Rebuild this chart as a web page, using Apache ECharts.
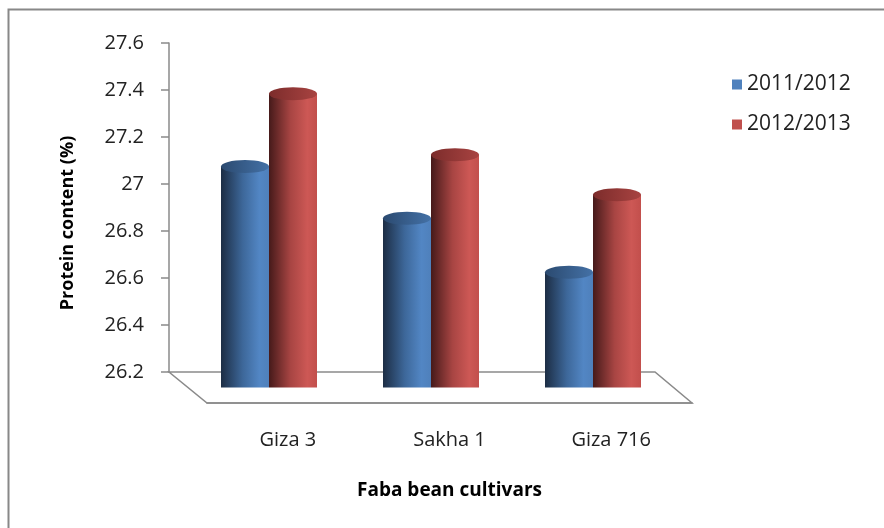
<!DOCTYPE html>
<html>
<head>
<meta charset="utf-8">
<title>Protein content</title>
<script src="https://cdn.jsdelivr.net/npm/echarts@6/dist/echarts.min.js"></script>
<style>
  html, body { margin: 0; padding: 0; background: #fff; }
  #main { width: 884px; height: 528px; }
</style>
</head>
<body>
<div id="main"></div>
<script>
var cultivars = ['Giza 3', 'Sakha 1', 'Giza 716']
var seasons = ['2011/2012', '2012/2013']
var season1 = [27.14, 26.92, 26.69]
var season2 = [27.45, 27.19, 27.02]
var yTicks = { min: 26.2, max: 27.6, step: 0.2 }

var chart = echarts.init(document.getElementById('main'))

var font = '"Open Sans", "Noto Sans", sans-serif'
var axisGrey = '#8a8a8a'

// cylinder body shading, dark on the left
function bodyColor(c) {
  return new echarts.graphic.LinearGradient(0, 0, 1, 0, [
    { offset: 0, color: c[0] },
    { offset: 0.45, color: c[1] },
    { offset: 0.8, color: c[2] },
    { offset: 1, color: c[3] }
  ])
}
var blueBody = bodyColor(['#1c2d44', '#3d6799', '#5286c4', '#4f80bb'])
var redBody = bodyColor(['#461a1a', '#a84543', '#cd5855', '#c24f4c'])
var blueTop = new echarts.graphic.LinearGradient(0, 0, 1, 0, [
  { offset: 0, color: '#2b4a70' }, { offset: 1, color: '#4471a6' }
])
var redTop = new echarts.graphic.LinearGradient(0, 0, 1, 0, [
  { offset: 0, color: '#7c2c2b' }, { offset: 1, color: '#a84341' }
])

var barW = 48
var capH = 13

function cap(data, color, dx, pos) {
  return {
    type: 'pictorialBar',
    xAxisIndex: 1,
    yAxisIndex: 1,
    symbol: 'circle',
    symbolSize: [barW, capH],
    symbolPosition: pos,
    symbolOffset: [dx, pos == 'end' ? '-50%' : '50%'],
    itemStyle: { color: color },
    z: pos == 'end' ? 4 : 1,
    silent: true,
    data: data
  }
}

var option = {
  backgroundColor: '#fff',
  animation: false,
  textStyle: { fontFamily: font },
  // outer frame of the chart area
  graphic: [
    {
      type: 'rect',
      shape: { x: 8.5, y: 9.5, width: 900, height: 540 },
      style: { fill: 'none', stroke: '#888', lineWidth: 2 },
      z: -10
    },
    {
      // floor of the 3d plot
      type: 'polygon',
      shape: { points: [[169, 372], [655, 372], [692, 403], [207, 403]] },
      style: { fill: '#fff', stroke: axisGrey, lineWidth: 1.5 },
      z: -5
    }
  ],
  legend: {
    orient: 'vertical',
    left: 727,
    top: 69,
    itemWidth: 10,
    itemHeight: 10,
    itemGap: 19,
    icon: 'rect',
    textStyle: { fontFamily: font, fontSize: 21, color: '#222' },
    data: [
      { name: seasons[0], itemStyle: { color: '#4f81bd' } },
      { name: seasons[1], itemStyle: { color: '#c0504d' } }
    ]
  },
  grid: [
    // back wall (value axis)
    { left: 169, top: 43, width: 486, height: 329 },
    // middle depth (bars)
    { left: 188, top: 58.5, width: 486, height: 329 },
    // front edge (category labels)
    { left: 207, top: 74, width: 485, height: 329 }
  ],
  xAxis: [
    { gridIndex: 0, type: 'category', data: cultivars, show: false },
    { gridIndex: 1, type: 'category', data: cultivars, show: false },
    {
      gridIndex: 2,
      type: 'category',
      data: cultivars,
      axisLine: { lineStyle: { color: axisGrey, width: 1.5 } },
      axisTick: { length: 8, lineStyle: { color: axisGrey, width: 1.5 } },
      axisLabel: { margin: 27, fontSize: 20, color: '#222', fontFamily: font },
      name: 'Faba bean cultivars',
      nameLocation: 'middle',
      nameGap: 78,
      nameTextStyle: { fontSize: 19, fontWeight: 'bold', color: '#000', fontFamily: font }
    }
  ],
  yAxis: [
    {
      gridIndex: 0,
      type: 'value',
      min: yTicks.min,
      max: yTicks.max,
      interval: yTicks.step,
      axisLine: { show: true, lineStyle: { color: axisGrey, width: 1.5 } },
      axisTick: { show: true, length: 8, lineStyle: { color: axisGrey, width: 1.5 } },
      axisLabel: {
        margin: 25,
        fontSize: 20,
        color: '#222',
        fontFamily: font,
        formatter: function (v) { return +v.toFixed(1) + '' }
      },
      splitLine: { show: false }
    },
    {
      gridIndex: 1,
      type: 'value',
      min: yTicks.min,
      max: yTicks.max,
      interval: yTicks.step,
      axisLine: { show: false },
      axisTick: { show: false },
      axisLabel: { show: false },
      splitLine: { show: false },
      name: 'Protein content (%)',
      nameLocation: 'middle',
      nameGap: 111,
      nameTextStyle: { fontSize: 18, fontWeight: 'bold', color: '#000', fontFamily: font }
    },
    { gridIndex: 2, type: 'value', min: yTicks.min, max: yTicks.max, show: false }
  ],
  series: [
    cap(season1, blueBody, -barW / 2, 'start'),
    cap(season2, redBody, barW / 2, 'start'),
    {
      name: seasons[0],
      type: 'bar',
      xAxisIndex: 1,
      yAxisIndex: 1,
      barWidth: barW,
      barGap: '0%',
      itemStyle: { color: blueBody },
      z: 2,
      data: season1
    },
    {
      name: seasons[1],
      type: 'bar',
      xAxisIndex: 1,
      yAxisIndex: 1,
      barWidth: barW,
      barGap: '0%',
      itemStyle: { color: redBody },
      z: 3,
      data: season2
    },
    cap(season1, blueTop, -barW / 2, 'end'),
    cap(season2, redTop, barW / 2, 'end')
  ]
}

chart.setOption(option)
</script>
</body>
</html>
